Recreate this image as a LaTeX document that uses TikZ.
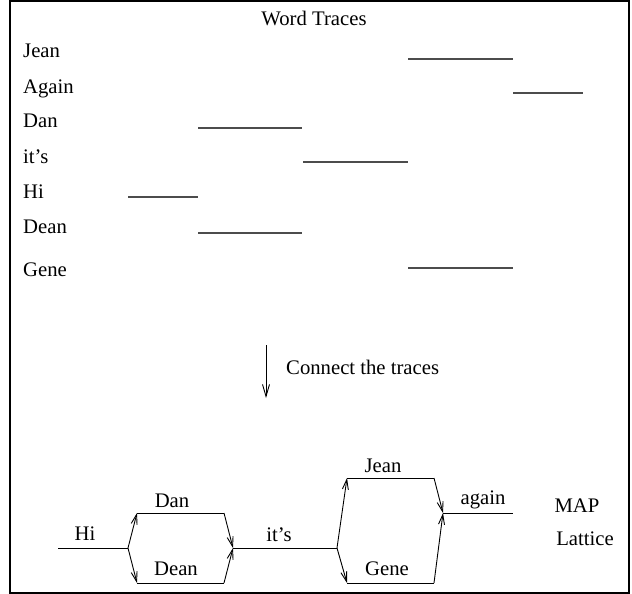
\documentclass[tikz,border=0pt]{standalone}
\usepackage{fontspec}
\setmainfont{Liberation Serif}
\usetikzlibrary{arrows.meta}
\begin{document}
\begin{tikzpicture}[x=1pt,y=-1pt,
  lbl/.style={inner sep=0pt,anchor=base,font=\fontsize{20.7}{24}\selectfont},
  rowlbl/.style={lbl,anchor=base west},
  trace/.style={line width=1.3pt,black!70},
  edge/.style={line width=0.9pt},
  barb/.style={edge,-{Straight Barb[length=10pt,width=6pt,line width=0.9pt]}}]
\useasboundingbox (0,0) rectangle (632,594);
\draw[line width=2.5pt] (10,1) rectangle (629,593);

% upper panel: one trace per word
\node[lbl] (title) at (314,26) {Word Traces};
\node[rowlbl] (wJean)  at (23,58)  {Jean};
\node[rowlbl] (wAgain) at (23,93)  {Again};
\node[rowlbl] (wDan)   at (23,128) {Dan};
\node[rowlbl] (wIts)   at (23,163) {it’s};
\node[rowlbl] (wHi)    at (23,198) {Hi};
\node[rowlbl] (wDean)  at (23,233) {Dean};
\node[rowlbl] (wGene)  at (23,276) {Gene};

\coordinate (tJa) at (408,59);  \coordinate (tJb) at (513,59);
\coordinate (tAa) at (513,93);  \coordinate (tAb) at (583,93);
\coordinate (tDa) at (198,128); \coordinate (tDb) at (302,128);
\coordinate (tIa) at (303,162); \coordinate (tIb) at (408,162);
\coordinate (tHa) at (128,197); \coordinate (tHb) at (198,197);
\coordinate (tEa) at (198,233); \coordinate (tEb) at (302,233);
\coordinate (tGa) at (408,268); \coordinate (tGb) at (513,268);
\foreach \t in {J,A,D,I,H,E,G} \draw[trace] (t\t a) -- (t\t b);

% step between the panels
\coordinate (s0) at (266,345);
\coordinate (s1) at (266,398);
\draw[edge,-{Straight Barb[length=12pt,width=7pt,line width=0.9pt]}] (s0) -- (s1);
\node[lbl,anchor=base west] (step) at (286,374) {Connect the traces};

% lower panel: the lattice
\coordinate (hs) at (58,548);
\coordinate (j1) at (128,548);
\coordinate (d1) at (137,513); \coordinate (d2) at (224,513);
\coordinate (e1) at (137,583); \coordinate (e2) at (224,583);
\coordinate (j2) at (233,548);
\coordinate (j3) at (337,548);
\coordinate (g1) at (347,478); \coordinate (g2) at (434,478);
\coordinate (h1) at (347,583); \coordinate (h2) at (434,583);
\coordinate (j4) at (443,513);
\coordinate (ae) at (513,513);

\draw[edge] (hs) -- (j1);
\draw[barb] (j1) -- (d1);
\draw[edge] (d1) -- (d2);
\draw[barb] (d2) -- (j2);
\draw[barb] (j1) -- (e1);
\draw[edge] (e1) -- (e2);
\draw[barb] (e2) -- (j2);
\draw[edge] (j2) -- (j3);
\draw[barb] (j3) -- (g1);
\draw[edge] (g1) -- (g2);
\draw[barb] (g2) -- (j4);
\draw[barb] (j3) -- (h1);
\draw[edge] (h1) -- (h2);
\draw[barb] (h2) -- (j4);
\draw[edge] (j4) -- (ae);

\node[lbl] (lHi)    at (85,540)  {Hi};
\node[lbl] (lDan)   at (172,507) {Dan};
\node[lbl] (lDean)  at (176,575) {Dean};
\node[lbl] (lIts)   at (279,541) {it’s};
\node[lbl] (lJean)  at (383,472) {Jean};
\node[lbl] (lGene)  at (387,575) {Gene};
\node[lbl] (lAgain) at (483,504) {again};
\node[lbl] (lMap)   at (577,512) {MAP};
\node[lbl] (lLat)   at (585,545) {Lattice};
\end{tikzpicture}
\end{document}
